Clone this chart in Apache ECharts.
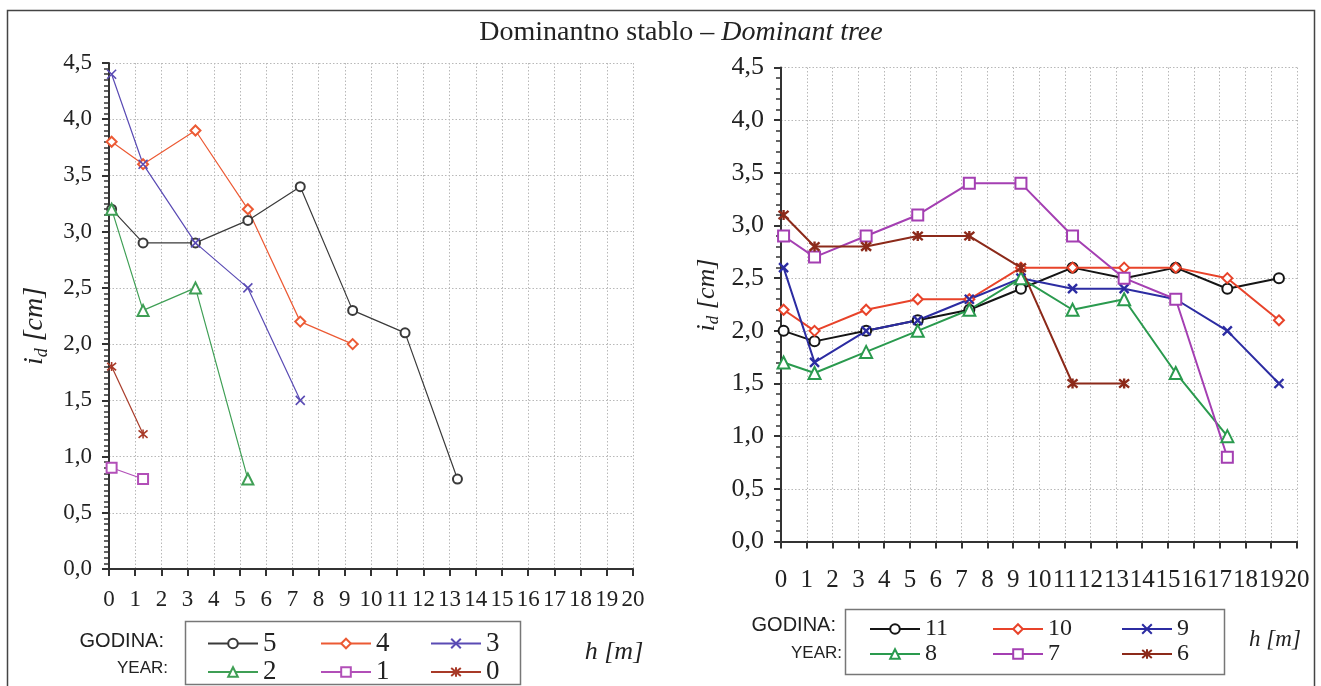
<!DOCTYPE html>
<html><head><meta charset="utf-8">
<script src="https://cdn.jsdelivr.net/npm/echarts@6/dist/echarts.min.js"></script>
<style>html,body{margin:0;padding:0;background:#fff}#c{width:1321px;height:686px}</style>
</head><body><div id="c"></div>
<script>
// ---- data ----
const heights = [0.1, 1.3, 3.3, 5.3, 7.3, 9.3, 11.3, 13.3, 15.3, 17.3, 19.3];
const xTicks = [0,1,2,3,4,5,6,7,8,9,10,11,12,13,14,15,16,17,18,19,20];
const yTicks = [0,0.5,1,1.5,2,2.5,3,3.5,4,4.5];
// left chart (years 5..0)
const y5 = [3.2, 2.9, 2.9, 3.1, 3.4, 2.3, 2.1, 0.8];
const y4 = [3.8, 3.6, 3.9, 3.2, 2.2, 2.0];
const y3 = [4.4, 3.6, 2.9, 2.5, 1.5];
const y2 = [3.2, 2.3, 2.5, 0.8];
const y1 = [0.9, 0.8];
const y0 = [1.8, 1.2];
// right chart (years 11..6)
const y11 = [2.0, 1.9, 2.0, 2.1, 2.2, 2.4, 2.6, 2.5, 2.6, 2.4, 2.5];
const y10 = [2.2, 2.0, 2.2, 2.3, 2.3, 2.6, 2.6, 2.6, 2.6, 2.5, 2.1];
const y9  = [2.6, 1.7, 2.0, 2.1, 2.3, 2.5, 2.4, 2.4, 2.3, 2.0, 1.5];
const y8  = [1.7, 1.6, 1.8, 2.0, 2.2, 2.5, 2.2, 2.3, 1.6, 1.0];
const y7  = [2.9, 2.7, 2.9, 3.1, 3.4, 3.4, 2.9, 2.5, 2.3, 0.8];
const y6  = [3.1, 2.8, 2.8, 2.9, 2.9, 2.6, 1.5, 1.5];

const SERIF = 'Liberation Serif';
const SANS = 'Liberation Sans';
const pairs = arr => arr.map((v, i) => [heights[i], v]);
const CROSS = 'path://M0,0L10,10M10,0L0,10';
const STAR = 'path://M0,0L10,10M10,0L0,10M5,-1L5,11';

function mk(name, data, color, symbol, size, grid, lw) {
  return {
    name: name, type: 'line', xAxisIndex: grid, yAxisIndex: grid,
    data: pairs(data), symbol: symbol, symbolSize: size,
    lineStyle: {color: color, width: lw},
    itemStyle: {color: color, borderColor: color, borderWidth: lw + 0.4},
    emphasis: {disabled: true}, animation: false, z: 3
  };
}
const leftS = [
  mk('5', y5, '#3a3a3a', 'emptyCircle', 9, 0, 1.2),
  mk('4', y4, '#ec5a34', 'emptyDiamond', 10, 0, 1.2),
  mk('3', y3, '#5a4bb4', CROSS, 9, 0, 1.2),
  mk('2', y2, '#3f9f55', 'emptyTriangle', 11, 0, 1.2),
  mk('1', y1, '#b24fb8', 'emptyRect', 10, 0, 1.2),
  mk('0', y0, '#a83a28', STAR, 9, 0, 1.2)
];
const rightS = [
  mk('11', y11, '#151515', 'emptyCircle', 10, 1, 2),
  mk('10', y10, '#e8432a', 'emptyDiamond', 10, 1, 2),
  mk('9', y9, '#2c2ca2', CROSS, 9, 1, 2),
  mk('8', y8, '#2a9a4e', 'emptyTriangle', 12, 1, 2),
  mk('7', y7, '#a43fb2', 'emptyRect', 11, 1, 2),
  mk('6', y6, '#8c2a1a', STAR, 10, 1, 2)
];

function fmt(v){ return v.toFixed(1).replace('.', ','); }

function xAx(grid, fs, margin) {
  return {
    type: 'value', gridIndex: grid, min: xTicks[0], max: xTicks[xTicks.length-1], interval: 1,
    axisLine: {onZero: false, lineStyle: {color: '#333', width: 2}},
    axisTick: {show: true, length: 7, lineStyle: {color: '#333', width: 2}},
    axisLabel: {color: '#222', fontFamily: SERIF, fontSize: fs, margin: margin,
      showMinLabel: true, showMaxLabel: true, hideOverlap: false,
      formatter: v => xTicks.indexOf(v) >= 0 ? String(v) : ''},
    splitLine: {show: true, lineStyle: {color: '#b8b8b8', type: [1.5, 2], width: 1}}
  };
}
function yAx(grid, fs, minorN) {
  return {
    type: 'value', gridIndex: grid, min: yTicks[0], max: yTicks[yTicks.length-1], interval: 0.5,
    axisLine: {show: true, onZero: false, lineStyle: {color: '#333', width: 2}},
    axisTick: {show: true, length: 7, lineStyle: {color: '#333', width: 2}},
    minorTick: {show: true, splitNumber: minorN, length: 5, lineStyle: {color: '#333', width: 1.5}},
    axisLabel: {color: '#222', fontFamily: SERIF, fontSize: fs, margin: 17, formatter: fmt,
      showMinLabel: true, showMaxLabel: true},
    splitLine: {show: true, lineStyle: {color: '#b8b8b8', type: [1.5, 2], width: 1}}
  };
}

function legendCol(names, left, top, fs, lh, gap) {
  return {
    data: names, orient: 'vertical', left: left, top: top, itemWidth: 50, itemHeight: 12,
    itemGap: gap, selectedMode: false, padding: 0,
    textStyle: {fontFamily: SERIF, fontSize: fs, color: '#222', lineHeight: lh}
  };
}

const chart = echarts.init(document.getElementById('c'), null, {renderer: 'canvas'});
chart.setOption({
  backgroundColor: '#fff',
  animation: false,
  grid: [
    {left: 109, top: 63, width: 524, height: 506},
    {left: 781, top: 67.5, width: 516, height: 474}
  ],
  xAxis: [xAx(0, 23, 19), xAx(1, 25, 26)],
  yAxis: [yAx(0, 23, 10), yAx(1, 26, 5)],
  legend: [
    legendCol(['5','2'], 207, 630, 27, 22, 1.5),
    legendCol(['4','1'], 320, 630, 27, 22, 1.5),
    legendCol(['3','0'], 430, 630, 27, 22, 1.5),
    legendCol(['11','8'], 869, 617, 24, 22, 1),
    legendCol(['10','7'], 992, 617, 24, 22, 1),
    legendCol(['9','6'], 1121, 617, 24, 22, 1)
  ],
  series: leftS.concat(rightS),
  graphic: [
    {type: 'polyline', shape: {points: [[7.5, 700], [7.5, 10.5], [1314.5, 10.5], [1314.5, 700]]},
     style: {stroke: '#444', lineWidth: 1.5, fill: null}, silent: true},
    {type: 'text', x: 681, y: 33, style: {
      text: '{a|Dominantno stablo – }{b|Dominant tree}', textAlign: 'center', textVerticalAlign: 'middle',
      rich: {a: {fontFamily: SERIF, fontSize: 28, fill: '#222'}, b: {fontFamily: SERIF, fontSize: 28, fontStyle: 'italic', fill: '#222'}}
    }},
    // y-axis names
    {type: 'text', x: 35, y: 326, rotation: Math.PI/2, style: {
      text: '{i|i}{d|d}{u| [cm]}', textAlign: 'center', textVerticalAlign: 'middle',
      rich: {i: {fontFamily: SERIF, fontSize: 28, fontStyle: 'italic', fill: '#222', lineHeight: 32, verticalAlign: 'middle'},
             d: {fontFamily: SERIF, fontSize: 18, fontStyle: 'italic', fill: '#222', lineHeight: 32, verticalAlign: 'bottom'},
             u: {fontFamily: SERIF, fontSize: 28, fontStyle: 'italic', fill: '#222', lineHeight: 32, verticalAlign: 'middle'}}
    }},
    {type: 'text', x: 707, y: 295, rotation: Math.PI/2, style: {
      text: '{i|i}{d|d}{u| [cm]}', textAlign: 'center', textVerticalAlign: 'middle',
      rich: {i: {fontFamily: SERIF, fontSize: 26, fontStyle: 'italic', fill: '#222', lineHeight: 30, verticalAlign: 'middle'},
             d: {fontFamily: SERIF, fontSize: 17, fontStyle: 'italic', fill: '#222', lineHeight: 30, verticalAlign: 'bottom'},
             u: {fontFamily: SERIF, fontSize: 26, fontStyle: 'italic', fill: '#222', lineHeight: 30, verticalAlign: 'middle'}}
    }},
    // legend boxes
    {type: 'rect', shape: {x: 185.5, y: 621.5, width: 335, height: 63}, style: {stroke: '#777', lineWidth: 1.5, fill: null}, silent: true},
    {type: 'rect', shape: {x: 845.5, y: 609.5, width: 379, height: 65}, style: {stroke: '#777', lineWidth: 1.5, fill: null}, silent: true},
    // GODINA / YEAR labels
    {type: 'text', x: 164, y: 641, style: {text: 'GODINA:', textAlign: 'right', textVerticalAlign: 'middle', fontFamily: SANS, fontSize: 20, fill: '#222'}},
    {type: 'text', x: 168, y: 668, style: {text: 'YEAR:', textAlign: 'right', textVerticalAlign: 'middle', fontFamily: SANS, fontSize: 17, fill: '#222'}},
    {type: 'text', x: 836, y: 625, style: {text: 'GODINA:', textAlign: 'right', textVerticalAlign: 'middle', fontFamily: SANS, fontSize: 20, fill: '#222'}},
    {type: 'text', x: 842, y: 653, style: {text: 'YEAR:', textAlign: 'right', textVerticalAlign: 'middle', fontFamily: SANS, fontSize: 17, fill: '#222'}},
    // x axis names
    {type: 'text', x: 614, y: 652, style: {text: 'h [m]', textAlign: 'center', textVerticalAlign: 'middle', fontFamily: SERIF, fontSize: 26, fontStyle: 'italic', fill: '#222'}},
    {type: 'text', x: 1275, y: 640, style: {text: 'h [m]', textAlign: 'center', textVerticalAlign: 'middle', fontFamily: SERIF, fontSize: 23, fontStyle: 'italic', fill: '#222'}}
  ]
});
</script>
</body></html>
